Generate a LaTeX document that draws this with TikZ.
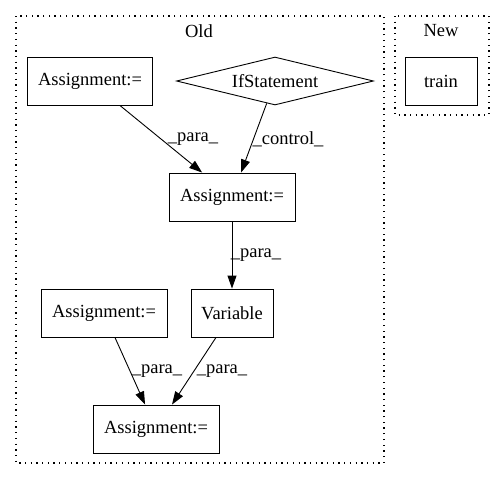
\documentclass[tikz,border=0pt]{standalone}
\usepackage{fontspec}
\setmainfont{Liberation Serif}
\usetikzlibrary{shapes.geometric,arrows.meta}
\begin{document}
\begin{tikzpicture}[x=1pt,y=-1pt,
  every node/.style={font=\fontsize{18.5}{20}\selectfont},
  box/.style={draw,line width=0.9pt,rectangle,minimum height=48pt,inner sep=0pt},
  cond/.style={draw,line width=0.9pt,diamond,aspect=4,minimum width=197pt,minimum height=48pt,inner sep=0pt},
  cluster/.style={draw,line width=1.3pt,dash pattern=on 1.3pt off 4.4pt},
  edge/.style={draw,line width=0.9pt,-{Triangle[length=13pt,width=9pt]}},
  lab/.style={inner sep=0pt}]
\useasboundingbox (0,0) rectangle (504,480);
\draw[cluster] (16,16) rectangle (384,463);
\draw[cluster] (395,16) rectangle (489,115);
\node (old) at (199,31) {Old};
\node (new) at (441,31) {New};
\node[box,minimum width=125pt] (a1) at (90,81) {Assignment:=};
\node[cond] (if) at (275,81) {IfStatement};
\node[box,minimum width=72pt] (tr) at (441,81) {train};
\node[box,minimum width=126pt] (a2) at (232,197) {Assignment:=};
\node[box,minimum width=126pt] (a3) at (104,313) {Assignment:=};
\node[box,minimum width=82pt] (var) at (232,313) {Variable};
\node[box,minimum width=126pt] (a4) at (156,429) {Assignment:=};
\draw[edge] (a1) -- (a2);
\draw[edge] (if) -- (a2);
\draw[edge] (a2) -- (var);
\draw[edge] (a3) -- (a4);
\draw[edge] (var) -- (a4);
\node[lab] (l1) at (193,139) {\_para\_};
\node[lab] (l2) at (288,139) {\_control\_};
\node[lab] (l3) at (256,255) {\_para\_};
\node[lab] (l4) at (157,371) {\_para\_};
\node[lab] (l5) at (222,371) {\_para\_};
\end{tikzpicture}
\end{document}
